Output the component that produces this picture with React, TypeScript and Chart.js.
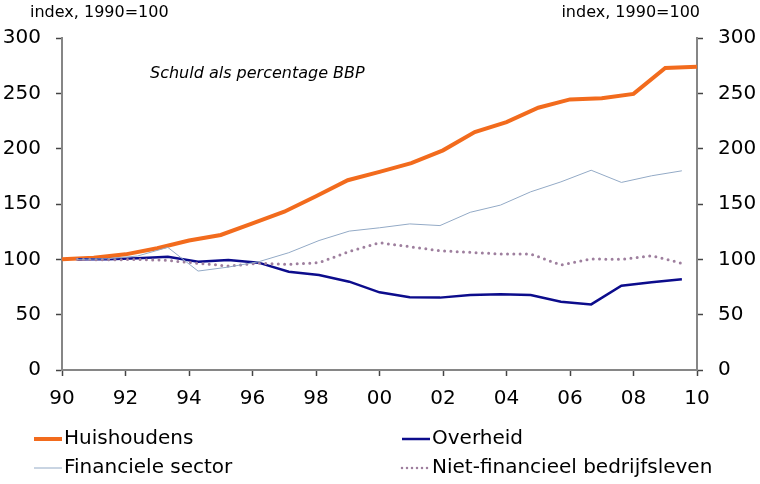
import React, { useEffect, useRef } from "react";
import { Chart, registerables } from "chart.js";

Chart.register(...registerables);

const years = ["1990","1991","1992","1993","1994","1995","1996","1997","1998","1999","2000","2001","2002","2003","2004","2005","2006","2007","2008","2009","2010"];
const huishoudens = [100, 101.5, 104.5, 110, 117, 122, 132.5, 143, 157, 171.5, 179, 187, 198.5, 215, 224, 237, 244.5, 245.5, 249.5, 273, 274];
const financieleSector = [100, 100.5, 103, 110.8, 89.4, 93, 97.8, 106, 117, 125.5, 128.5, 132, 130.5, 142.5, 149, 161, 170, 180.5, 169.5, 175.5, 180];
const overheid = [100, 100, 101, 102.3, 97.8, 99.4, 97, 88.8, 85.8, 79.8, 70.2, 65.7, 65.4, 67.7, 68.4, 67.7, 61.7, 59.3, 76.2, 79.2, 81.9];
const nietFinancieel = [100, 99.5, 100, 99, 96.4, 94, 96.4, 95.5, 97, 107, 115, 111.4, 107.8, 106.3, 104.8, 104.8, 94.9, 100.3, 100, 103.3, 96.4];
const axisTitle = "index, 1990=100";
const annotation = "Schuld als percentage BBP";

const ORANGE = "#f26b1d";
const NAVY = "#0c0c8c";
const LIGHT = "#93aac6";
const MAUVE = "#9e7f9e";
const FONT = "'DejaVu Sans', Verdana, sans-serif";

const legendItems = [
  { label: "Huishoudens", color: ORANGE, width: 4, dash: [] as number[], col: 0, row: 0 },
  { label: "Overheid", color: NAVY, width: 2.5, dash: [] as number[], col: 1, row: 0 },
  { label: "Financiele sector", color: LIGHT, width: 1, dash: [] as number[], col: 0, row: 1 },
  { label: "Niet-financieel bedrijfsleven", color: MAUVE, width: 2.5, dash: [0, 5], col: 1, row: 1 },
];

const overlay = {
  id: "overlay",
  afterDraw(chart: any) {
    const ctx = chart.ctx as CanvasRenderingContext2D;
    const area = chart.chartArea;
    ctx.save();
    ctx.fillStyle = "#000";
    ctx.font = `16px ${FONT}`;
    ctx.textBaseline = "middle";
    ctx.textAlign = "left";
    ctx.fillText(axisTitle, 30, 13);
    ctx.textAlign = "right";
    ctx.fillText(axisTitle, 700, 13);
    ctx.textAlign = "left";
    ctx.font = `italic 16px ${FONT}`;
    ctx.fillText(annotation, area.left + 88, 74);
    // legend
    ctx.font = `20px ${FONT}`;
    legendItems.forEach((it) => {
      const x0 = it.col === 0 ? 34 : 402;
      const y = it.row === 0 ? 439 : 468;
      ctx.save();
      ctx.strokeStyle = it.color;
      ctx.lineWidth = it.width;
      ctx.lineCap = it.dash.length ? "round" : "butt";
      ctx.setLineDash(it.dash);
      ctx.beginPath();
      ctx.moveTo(x0, y);
      ctx.lineTo(x0 + 28, y);
      ctx.stroke();
      ctx.restore();
      ctx.fillStyle = "#000";
      ctx.fillText(it.label, x0 + 30, y);
    });
    ctx.restore();
  },
};

export default function App() {
  const ref = useRef<HTMLCanvasElement | null>(null);
  useEffect(() => {
    if (!ref.current) return;
    const chart = new Chart(ref.current, {
      type: "line",
      data: {
        labels: years,
        datasets: [
          { label: "Financiele sector", data: financieleSector, xAxisID: "x2", yAxisID: "y", borderColor: LIGHT, borderWidth: 1, pointRadius: 0, tension: 0 },
          { label: "Niet-financieel bedrijfsleven", data: nietFinancieel, xAxisID: "x2", yAxisID: "y", borderColor: MAUVE, borderWidth: 3, borderDash: [0, 6.3], borderCapStyle: "round", pointRadius: 0, tension: 0 },
          { label: "Overheid", data: overheid, xAxisID: "x2", yAxisID: "y", borderColor: NAVY, borderWidth: 2.5, pointRadius: 0, tension: 0 },
          { label: "Huishoudens", data: huishoudens, xAxisID: "x", yAxisID: "y", borderColor: ORANGE, borderWidth: 4, pointRadius: 0, tension: 0 },
        ],
      },
      options: {
        animation: false,
        responsive: false,
        devicePixelRatio: 1,
        layout: { padding: { top: 38, left: 0, right: 0, bottom: 0 } },
        plugins: { legend: { display: false }, tooltip: { enabled: false } },
        scales: {
          x: {
            type: "category",
            position: "bottom",
            offset: false,
            afterFit: (s: any) => { s.height = 114; },
            grid: { drawOnChartArea: false, drawTicks: true, tickLength: 6, tickColor: "#444", tickWidth: 1.5 },
            border: { display: true, color: "#868686", width: 2 },
            ticks: {
              autoSkip: false,
              maxRotation: 0,
              padding: 11,
              color: "#000",
              font: { family: FONT, size: 20 },
              callback: (_v: any, i: number) => (i % 2 === 0 ? years[i].slice(2) : null),
            },
          },
          x2: { type: "category", position: "bottom", offset: true, display: false },
          y: {
            position: "left",
            min: 0,
            max: 300,
            afterFit: (s: any) => { s.width = 62; },
            grid: { drawOnChartArea: false, drawTicks: true, tickLength: 6, tickColor: "#444", tickWidth: 1.5 },
            border: { display: true, color: "#868686", width: 2 },
            ticks: { stepSize: 50, padding: 15, color: "#000", font: { family: FONT, size: 20 } },
          },
          y2: {
            position: "right",
            min: 0,
            max: 300,
            afterFit: (s: any) => { s.width = 63; },
            grid: { drawOnChartArea: false, drawTicks: true, tickLength: 6, tickColor: "#444", tickWidth: 1.5 },
            border: { display: true, color: "#868686", width: 2 },
            ticks: { stepSize: 50, padding: 15, color: "#000", font: { family: FONT, size: 20 } },
          },
        },
      },
      plugins: [overlay],
    } as any);
    return () => chart.destroy();
  }, []);
  return (
    <div style={{ position: "absolute", left: 0, top: 0, width: 760, height: 484, background: "#fff" }}>
      <canvas ref={ref} width={760} height={484} style={{ display: "block" }} />
    </div>
  );
}
